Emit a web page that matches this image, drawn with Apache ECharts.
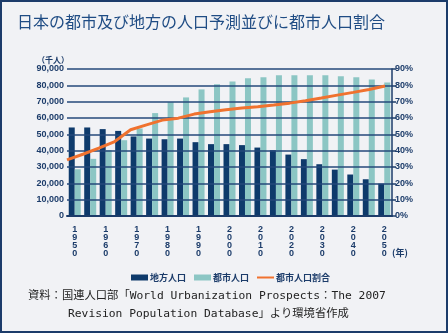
<!DOCTYPE html>
<html>
<head>
<meta charset="utf-8">
<script src="https://cdn.jsdelivr.net/npm/echarts@6/dist/echarts.min.js"></script>
<style>
  html, body { margin: 0; padding: 0; }
  #frame {
    width: 448px; height: 333px; box-sizing: border-box;
    border: 2px solid #1c3c6a; background: #f1f2f5; position: relative;
  }
  #chart { position: absolute; left: -2px; top: -2px; width: 448px; height: 333px; }
</style>
</head>
<body>
<div id="frame"><div id="chart"></div></div>
<script>
// Years, every 5 years from 1950 to 2050
const years = ['1950','1955','1960','1965','1970','1975','1980','1985','1990','1995','2000',
               '2005','2010','2015','2020','2025','2030','2035','2040','2045','2050'];
// Rural population (thousand persons)
const rural = [54200, 54200, 53200, 52100, 48700, 47400, 47000, 47400, 45200, 44000, 44000,
               43400, 41900, 40300, 37600, 34800, 31700, 28400, 25400, 22500, 19800];
// Urban population (thousand persons)
const urban = [28600, 35000, 40300, 46400, 53600, 63000, 69700, 72600, 77500, 80600, 82400,
               84300, 84900, 86100, 86100, 86100, 86100, 85500, 84900, 83600, 81800];
// Share of population living in cities (%)
const urbanShare = [34.4, 37.8, 41.5, 45.6, 52.8, 55.8, 58.7, 59.9, 62.4, 63.8, 65.0,
                    66.1, 66.9, 67.9, 69.1, 70.6, 72.2, 74.0, 75.7, 77.5, 79.6];
// Axis ranges
const popTicks = [0, 10000, 20000, 30000, 40000, 50000, 60000, 70000, 80000, 90000];
const shareTicks = [0, 10, 20, 30, 40, 50, 60, 70, 80, 90];

const seriesNames = ['地方人口', '都市人口', '都市人口割合'];
const navy = '#1c3c6a';
const axisText = { color: '#1c3c6a', fontSize: 9, fontWeight: 'bold', fontFamily: 'Liberation Sans, Arial, sans-serif' };

const chart = echarts.init(document.getElementById('chart'), null, { renderer: 'canvas' });
chart.setOption({
  backgroundColor: 'transparent',
  animation: false,
  title: {
    text: '日本の都市及び地方の人口予測並びに都市人口割合',
    left: 12, top: 9,
    textStyle: { color: '#1f4c84', fontSize: 16, fontWeight: 'normal', fontFamily: 'Noto Sans CJK JP' }
  },
  legend: {
    data: [
      { name: seriesNames[0], icon: 'rect' },
      { name: seriesNames[1], icon: 'rect' },
      { name: seriesNames[2], icon: 'path://M0,0L17,0L17,2L0,2Z' }
    ],
    left: 126, top: 268,
    itemWidth: 17, itemHeight: 6, itemGap: 8,
    textStyle: { color: '#1c3c6a', fontSize: 9, fontWeight: 'bold', fontFamily: 'Noto Sans CJK JP', padding: [0, 0, 0, -3] }
  },
  grid: [
    { left: 67, right: 56, top: 69, bottom: 117 },
    { left: 67, right: 63, top: 69, bottom: 117 }
  ],
  xAxis: [
    {
      type: 'category', gridIndex: 0, data: years,
      axisLine: { lineStyle: { color: navy, width: 2 } },
      axisTick: { show: false },
      axisLabel: {
        interval: 1, margin: 10,
        ...axisText, lineHeight: 8,
        formatter: v => v.split('').join('\n')
      },
      z: 4
    },
    {
      type: 'category', gridIndex: 1, data: years, boundaryGap: false, show: false
    }
  ],
  yAxis: [
    {
      type: 'value', gridIndex: 0, min: popTicks[0], max: popTicks[popTicks.length - 1],
      interval: popTicks[1] - popTicks[0],
      axisLine: { show: false }, axisTick: { show: false },
      splitLine: { lineStyle: { color: '#25487a', width: 1.5 } },
      axisLabel: { ...axisText, margin: 3, formatter: v => v.toLocaleString('en-US') },
      z: 3
    },
    {
      type: 'value', gridIndex: 0, position: 'right',
      min: shareTicks[0], max: shareTicks[shareTicks.length - 1],
      interval: shareTicks[1] - shareTicks[0],
      axisLine: { show: true, lineStyle: { color: navy, width: 1.5 } },
      axisTick: { show: true, length: 4, lineStyle: { color: navy, width: 1.5 } },
      splitLine: { show: false },
      axisLabel: { ...axisText, margin: 3, formatter: v => v + '%' },
      z: 3
    },
    {
      type: 'value', gridIndex: 1, min: shareTicks[0], max: shareTicks[shareTicks.length - 1], show: false
    }
  ],
  series: [
    {
      name: seriesNames[0], type: 'bar', xAxisIndex: 0, yAxisIndex: 0,
      data: rural, barWidth: 6, barGap: '0%',
      itemStyle: { color: '#0e3a6b' }, z: 2
    },
    {
      name: seriesNames[1], type: 'bar', xAxisIndex: 0, yAxisIndex: 0,
      data: urban, barWidth: 6,
      itemStyle: { color: '#8cc6c4' }, z: 2
    },
    {
      name: seriesNames[2], type: 'line', xAxisIndex: 1, yAxisIndex: 2,
      data: urbanShare, symbol: 'none',
      lineStyle: { color: '#f0722f', width: 3 },
      itemStyle: { color: '#f0722f' }, z: 6
    }
  ],
  graphic: [
    { type: 'text', left: 37, top: 56,
      style: { text: '（千人）', fill: '#1c3c6a', fontSize: 8, fontWeight: 'bold', fontFamily: 'Noto Sans CJK JP' } },
    { type: 'text', left: 392, top: 248,
      style: { text: '(年)', fill: '#1c3c6a', fontSize: 9, fontWeight: 'bold', fontFamily: 'Noto Sans CJK JP' } },
    { type: 'text', left: 28, top: 290,
      style: { text: '資料：国連人口部「World Urbanization Prospects：The 2007', fill: '#222',
               fontSize: 11.3, fontFamily: 'DejaVu Sans Mono, Noto Sans CJK JP' } },
    { type: 'text', left: 68, top: 308,
      style: { text: 'Revision Population Database」より環境省作成', fill: '#222',
               fontSize: 11.3, fontFamily: 'DejaVu Sans Mono, Noto Sans CJK JP' } }
  ]
});
</script>
</body>
</html>
